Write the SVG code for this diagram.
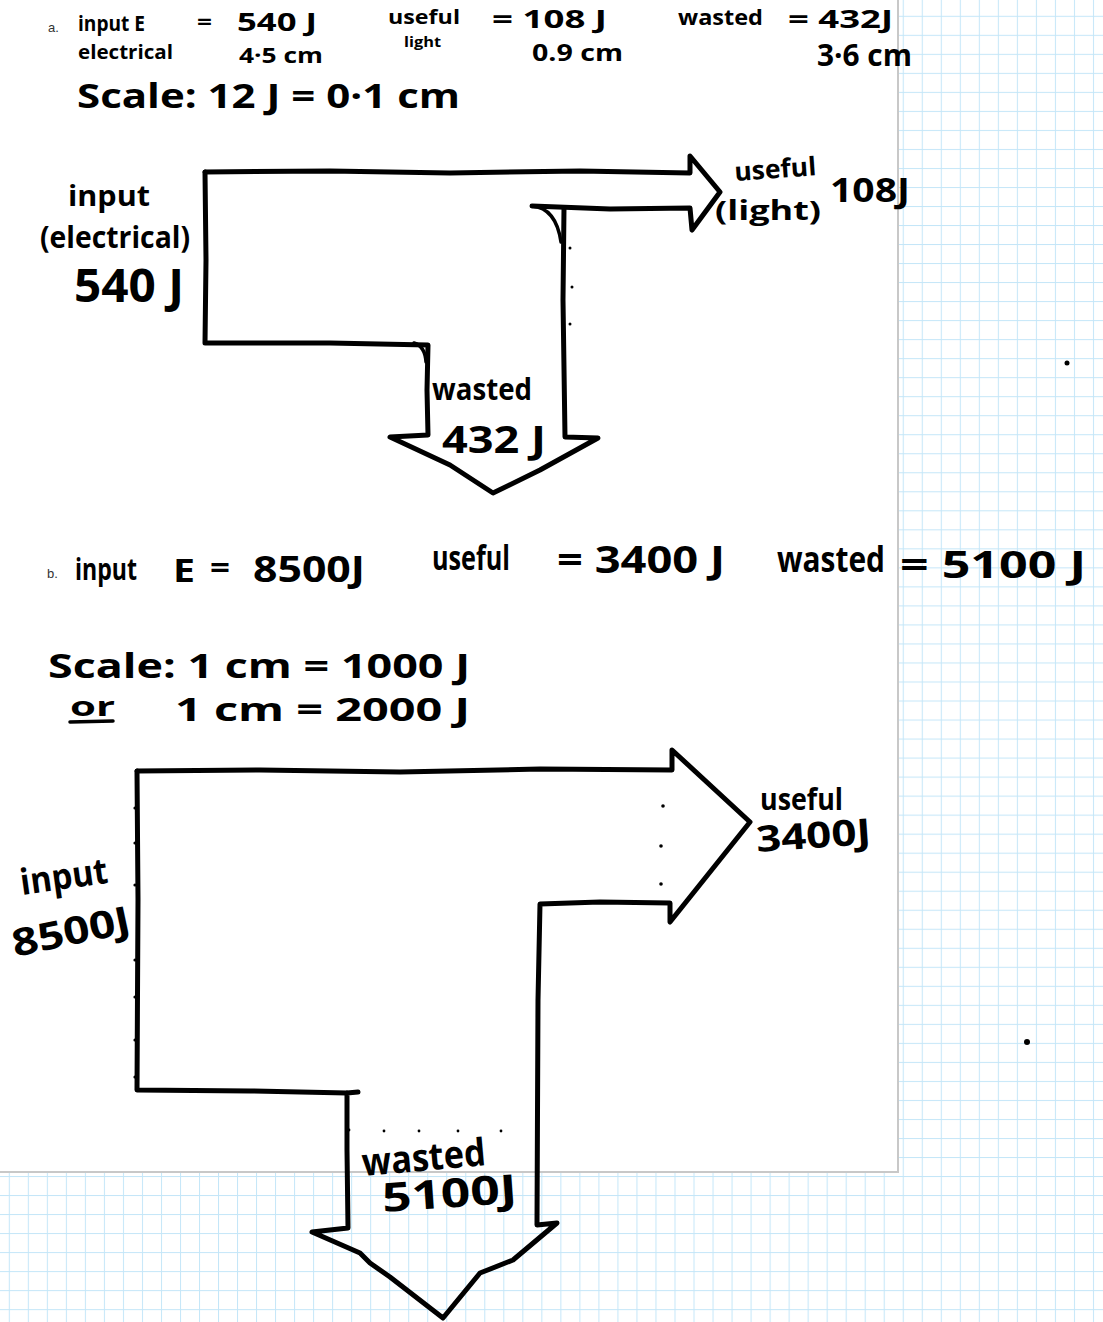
<svg xmlns="http://www.w3.org/2000/svg" width="1103" height="1322" viewBox="0 0 1103 1322">
<style>
.h{font-family:"Open Sans","Liberation Sans",sans-serif;font-weight:700;fill:#000}
.t{font-family:"Liberation Sans",Arial,sans-serif;font-size:13px;fill:#333}
.ln{fill:none;stroke:#000;stroke-width:5;stroke-linecap:round;stroke-linejoin:round}
.thin{fill:none;stroke:#000;stroke-width:3.5;stroke-linecap:round;stroke-linejoin:round}
.dot{fill:#000}
</style>
<defs>
<pattern id="grid" x="8.8" y="15.8" width="19.02" height="19.02" patternUnits="userSpaceOnUse">
<rect x="0" y="0" width="1" height="19.02" fill="#c4e6f8"/>
<rect x="0" y="0" width="19.02" height="1" fill="#c4e6f8"/>
</pattern>
</defs>
<rect x="0" y="0" width="1103" height="1322" fill="#fff"/>
<rect x="0" y="0" width="1103" height="1322" fill="url(#grid)"/>
<g id="page">
<rect x="0" y="0" width="897" height="1171" fill="#fff"/>
<rect x="897" y="0" width="2" height="1173" fill="#c8c8c8"/>
<rect x="0" y="1171" width="899" height="2" fill="#c8c8c8"/>
</g>

<g id="header-a">
<text class="t" x="48" y="32">a.</text>
<text class="h" x="78" y="31" font-size="22" textLength="67" lengthAdjust="spacingAndGlyphs">input E</text>
<text class="h" x="78" y="59" font-size="19" textLength="95" lengthAdjust="spacingAndGlyphs">electrical</text>
<text class="h" x="197" y="29" font-size="22" textLength="15" lengthAdjust="spacingAndGlyphs">=</text>
<text class="h" x="237" y="31" font-size="25" textLength="80" lengthAdjust="spacingAndGlyphs">540 J</text>
<text class="h" x="239" y="63" font-size="22" textLength="84" lengthAdjust="spacingAndGlyphs">4·5 cm</text>
<text class="h" x="388" y="24" font-size="20" textLength="72" lengthAdjust="spacingAndGlyphs">useful</text>
<text class="h" x="404" y="47" font-size="15" textLength="37" lengthAdjust="spacingAndGlyphs">light</text>
<text class="h" x="492" y="28" font-size="25" textLength="115" lengthAdjust="spacingAndGlyphs">= 108 J</text>
<text class="h" x="532" y="61" font-size="24" textLength="91" lengthAdjust="spacingAndGlyphs">0.9 cm</text>
<text class="h" x="678" y="25" font-size="22" textLength="85" lengthAdjust="spacingAndGlyphs">wasted</text>
<text class="h" x="788" y="28" font-size="25" textLength="105" lengthAdjust="spacingAndGlyphs">= 432J</text>
<text class="h" x="817" y="66" font-size="30" textLength="95" lengthAdjust="spacingAndGlyphs">3·6 cm</text>
<text class="h" x="77" y="108" font-size="34" textLength="383" lengthAdjust="spacingAndGlyphs">Scale: 12 J = 0·1 cm</text>
</g>

<g id="connectors">
<g id="sankey-a">
<path class="ln" d="M205,172 L330,171 L450,173 L580,171 L690,173 L690,156 L720,192 L692,230 L690,208 L610,209 L532,206"/>
<path class="thin" d="M532,206 Q556,208 561,242"/>
<path class="ln" d="M564,208 L563,300 L565,437 L598,438 L540,470 L493,493 L450,465 L390,437 L428,435 L427,390 L428,345 L330,343 L205,343 L206,260 L205,172"/>
<path class="thin" d="M414,343 Q425,346 426,362"/>
</g>
<g id="sankey-b">
<path class="ln" d="M137,771 L260,770 L400,772 L540,769 L672,770 L672,750 L750,822 L670,922 L670,903 L600,902 L540,904 L538,1000 L537,1225 L557,1223 L513,1260 L480,1273 L443,1318 L390,1277 L370,1263 L360,1253 L312,1232 L348,1228 L347,1150 L347,1093 L358,1092"/>
<path class="ln" d="M347,1093 L250,1091 L137,1090 L138,900 L137,771"/>
</g>
</g>

<g id="dots">
<circle class="dot" cx="570" cy="248" r="1.5"/>
<circle class="dot" cx="572" cy="287" r="1.5"/>
<circle class="dot" cx="570" cy="324" r="1.5"/>
<circle class="dot" cx="1067" cy="363" r="2.5"/>
<circle class="dot" cx="1027" cy="1042" r="3"/>
<circle class="dot" cx="663" cy="806" r="1.8"/>
<circle class="dot" cx="661" cy="846" r="1.8"/>
<circle class="dot" cx="661" cy="884" r="1.8"/>
<circle class="dot" cx="135" cy="808" r="1.6"/>
<circle class="dot" cx="135" cy="843" r="1.6"/>
<circle class="dot" cx="135" cy="885" r="1.6"/>
<circle class="dot" cx="135" cy="960" r="1.6"/>
<circle class="dot" cx="135" cy="997" r="1.6"/>
<circle class="dot" cx="135" cy="1040" r="1.6"/>
<circle class="dot" cx="135" cy="1077" r="1.6"/>
<circle class="dot" cx="349" cy="1130" r="1.4"/>
<circle class="dot" cx="384" cy="1131" r="1.4"/>
<circle class="dot" cx="419" cy="1131" r="1.4"/>
<circle class="dot" cx="458" cy="1131" r="1.4"/>
<circle class="dot" cx="501" cy="1131" r="1.4"/>
</g>

<g id="node-a-input">
<text class="h" x="68" y="206" font-size="28" textLength="82" lengthAdjust="spacingAndGlyphs">input</text>
<text class="h" x="40" y="248" font-size="30" textLength="150" lengthAdjust="spacingAndGlyphs">(electrical)</text>
<text class="h" x="74" y="302" font-size="46" textLength="110" lengthAdjust="spacingAndGlyphs">540 J</text>
</g>
<g id="node-a-useful">
<text class="h" x="735" y="181" font-size="26" textLength="82" lengthAdjust="spacingAndGlyphs" transform="rotate(-4 735 181)">useful</text>
<text class="h" x="715" y="220" font-size="26" textLength="106" lengthAdjust="spacingAndGlyphs">(light)</text>
<text class="h" x="830" y="202" font-size="34" textLength="80" lengthAdjust="spacingAndGlyphs">108J</text>
</g>
<g id="node-a-wasted">
<text class="h" x="432" y="400" font-size="30" textLength="100" lengthAdjust="spacingAndGlyphs">wasted</text>
<text class="h" x="442" y="453" font-size="38" textLength="104" lengthAdjust="spacingAndGlyphs">432 J</text>
</g>

<g id="header-b">
<text class="t" x="47" y="578">b.</text>
<text class="h" x="75" y="580" font-size="30" textLength="62" lengthAdjust="spacingAndGlyphs">input</text>
<text class="h" x="173" y="582" font-size="32" textLength="22" lengthAdjust="spacingAndGlyphs">E</text>
<text class="h" x="210" y="578" font-size="30" textLength="20" lengthAdjust="spacingAndGlyphs">=</text>
<text class="h" x="253" y="582" font-size="36" textLength="112" lengthAdjust="spacingAndGlyphs">8500J</text>
<text class="h" x="432" y="570" font-size="34" textLength="78" lengthAdjust="spacingAndGlyphs">useful</text>
<text class="h" x="557" y="573" font-size="38" textLength="168" lengthAdjust="spacingAndGlyphs">= 3400 J</text>
<text class="h" x="777" y="572" font-size="36" textLength="108" lengthAdjust="spacingAndGlyphs">wasted</text>
<text class="h" x="900" y="578" font-size="38" textLength="186" lengthAdjust="spacingAndGlyphs">= 5100 J</text>
<text class="h" x="48" y="678" font-size="34" textLength="422" lengthAdjust="spacingAndGlyphs">Scale: 1 cm = 1000 J</text>
<text class="h" x="70" y="716" font-size="26" textLength="45" lengthAdjust="spacingAndGlyphs">or</text>
<path class="thin" d="M70,722 L113,721"/>
<text class="h" x="175" y="721" font-size="32" textLength="295" lengthAdjust="spacingAndGlyphs">1 cm = 2000 J</text>
</g>

<g id="node-b-input">
<text class="h" x="22" y="895" font-size="36" textLength="88" lengthAdjust="spacingAndGlyphs" transform="rotate(-8 22 895)">input</text>
<text class="h" x="15" y="957" font-size="38" textLength="120" lengthAdjust="spacingAndGlyphs" transform="rotate(-12 15 957)">8500J</text>
</g>
<g id="node-b-useful">
<text class="h" x="760" y="810" font-size="30" textLength="83" lengthAdjust="spacingAndGlyphs">useful</text>
<text class="h" x="757" y="852" font-size="36" textLength="115" lengthAdjust="spacingAndGlyphs" transform="rotate(-4 757 852)">3400J</text>
</g>
<g id="node-b-wasted">
<text class="h" x="363" y="1176" font-size="38" textLength="124" lengthAdjust="spacingAndGlyphs" transform="rotate(-5 363 1176)">wasted</text>
<text class="h" x="383" y="1212" font-size="40" textLength="135" lengthAdjust="spacingAndGlyphs" transform="rotate(-4 383 1212)">5100J</text>
</g>
</svg>
